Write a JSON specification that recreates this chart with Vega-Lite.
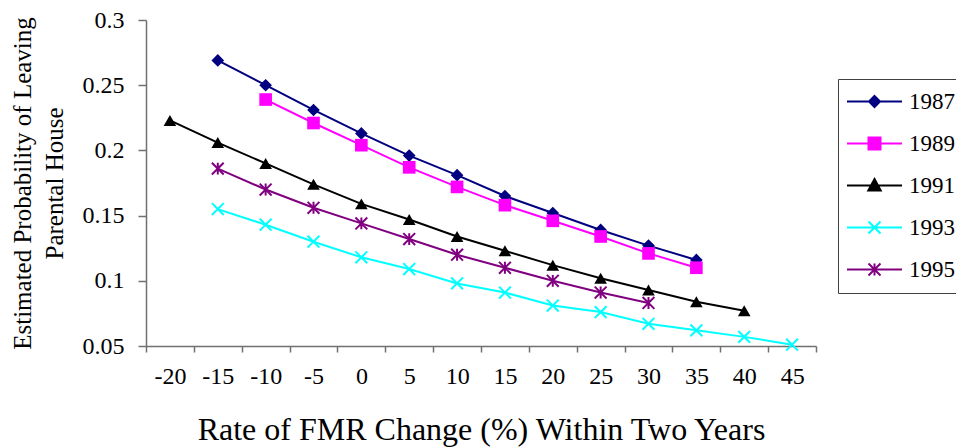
{
  "$schema": "https://vega.github.io/schema/vega-lite/v6.json",
  "width": 670,
  "height": 326,
  "autosize": "none",
  "padding": {"left": 146, "top": 20, "right": 140, "bottom": 101},
  "background": "white",
  "config": {
    "view": {"stroke": null},
    "axis": {
      "labelFont": "Liberation Serif",
      "titleFont": "Liberation Serif",
      "labelColor": "black",
      "titleColor": "black",
      "titleFontWeight": "normal",
      "domainColor": "#707070",
      "tickColor": "#707070",
      "domainWidth": 1.5,
      "tickWidth": 1.5,
      "grid": false
    }
  },
  "data": {
    "values": [
      {"x": -15, "y": 0.269, "year": "1987"},
      {"x": -10, "y": 0.250, "year": "1987"},
      {"x": -5, "y": 0.231, "year": "1987"},
      {"x": 0, "y": 0.213, "year": "1987"},
      {"x": 5, "y": 0.196, "year": "1987"},
      {"x": 10, "y": 0.181, "year": "1987"},
      {"x": 15, "y": 0.165, "year": "1987"},
      {"x": 20, "y": 0.152, "year": "1987"},
      {"x": 25, "y": 0.139, "year": "1987"},
      {"x": 30, "y": 0.127, "year": "1987"},
      {"x": 35, "y": 0.116, "year": "1987"},
      {"x": -10, "y": 0.239, "year": "1989"},
      {"x": -5, "y": 0.221, "year": "1989"},
      {"x": 0, "y": 0.204, "year": "1989"},
      {"x": 5, "y": 0.187, "year": "1989"},
      {"x": 10, "y": 0.172, "year": "1989"},
      {"x": 15, "y": 0.158, "year": "1989"},
      {"x": 20, "y": 0.146, "year": "1989"},
      {"x": 25, "y": 0.134, "year": "1989"},
      {"x": 30, "y": 0.121, "year": "1989"},
      {"x": 35, "y": 0.110, "year": "1989"},
      {"x": -20, "y": 0.223, "year": "1991"},
      {"x": -15, "y": 0.206, "year": "1991"},
      {"x": -10, "y": 0.190, "year": "1991"},
      {"x": -5, "y": 0.174, "year": "1991"},
      {"x": 0, "y": 0.159, "year": "1991"},
      {"x": 5, "y": 0.147, "year": "1991"},
      {"x": 10, "y": 0.134, "year": "1991"},
      {"x": 15, "y": 0.123, "year": "1991"},
      {"x": 20, "y": 0.112, "year": "1991"},
      {"x": 25, "y": 0.102, "year": "1991"},
      {"x": 30, "y": 0.093, "year": "1991"},
      {"x": 35, "y": 0.084, "year": "1991"},
      {"x": 40, "y": 0.077, "year": "1991"},
      {"x": -15, "y": 0.155, "year": "1993"},
      {"x": -10, "y": 0.143, "year": "1993"},
      {"x": -5, "y": 0.130, "year": "1993"},
      {"x": 0, "y": 0.118, "year": "1993"},
      {"x": 5, "y": 0.109, "year": "1993"},
      {"x": 10, "y": 0.098, "year": "1993"},
      {"x": 15, "y": 0.091, "year": "1993"},
      {"x": 20, "y": 0.081, "year": "1993"},
      {"x": 25, "y": 0.076, "year": "1993"},
      {"x": 30, "y": 0.067, "year": "1993"},
      {"x": 35, "y": 0.062, "year": "1993"},
      {"x": 40, "y": 0.057, "year": "1993"},
      {"x": 45, "y": 0.051, "year": "1993"},
      {"x": -15, "y": 0.186, "year": "1995"},
      {"x": -10, "y": 0.170, "year": "1995"},
      {"x": -5, "y": 0.156, "year": "1995"},
      {"x": 0, "y": 0.144, "year": "1995"},
      {"x": 5, "y": 0.132, "year": "1995"},
      {"x": 10, "y": 0.120, "year": "1995"},
      {"x": 15, "y": 0.110, "year": "1995"},
      {"x": 20, "y": 0.100, "year": "1995"},
      {"x": 25, "y": 0.091, "year": "1995"},
      {"x": 30, "y": 0.083, "year": "1995"}
    ]
  },
  "encoding": {
    "x": {
      "field": "x",
      "type": "quantitative",
      "scale": {"domain": [-22.5, 47.5], "nice": false, "zero": false},
      "axis": {
        "values": [-22.5, -17.5, -12.5, -7.5, -2.5, 2.5, 7.5, 12.5, 17.5, 22.5, 27.5, 32.5, 37.5, 42.5, 47.5],
        "labelExpr": "datum.value > 46 ? '' : toString(datum.value + 2.5)",
        "labelOffset": 24,
        "labelFontSize": 24,
        "labelBaseline": "alphabetic",
        "labelPadding": 31,
        "labelFlush": false,
        "labelOverlap": false,
        "tickSize": 6,
        "title": "Rate of FMR Change (%) Within Two Years",
        "titleFontSize": 32,
        "titleBaseline": "alphabetic",
        "titleY": 93
      }
    },
    "y": {
      "field": "y",
      "type": "quantitative",
      "scale": {"domain": [0.05, 0.3], "nice": false, "zero": false},
      "axis": {
        "values": [0.05, 0.1, 0.15, 0.2, 0.25, 0.3],
        "labelExpr": "toString(datum.value)",
        "labelFontSize": 24,
        "labelPadding": 14,
        "tickSize": 8,
        "title": ["Estimated Probability of Leaving", "Parental House"],
        "titleFontSize": 25,
        "titleLineHeight": 32,
        "titleAngle": -90,
        "titleBaseline": "alphabetic",
        "titleX": -116
      }
    }
  },
  "resolve": {"scale": {"shape": "independent", "fill": "independent", "stroke": "independent"}},
  "layer": [
    {
      "mark": {"type": "line", "strokeWidth": 2},
      "encoding": {
        "color": {
          "field": "year",
          "type": "nominal",
          "scale": {
            "domain": ["1987", "1989", "1991", "1993", "1995"],
            "range": ["#000080", "#FF00FF", "#000000", "#00FFFF", "#800080"]
          },
          "legend": null
        }
      }
    },
    {
      "transform": [{"filter": "datum.year === '1987' || datum.year === '1989' || datum.year === '1991'"}],
      "mark": {"type": "point", "filled": true, "size": 160, "opacity": 1},
      "encoding": {
        "color": {"field": "year", "type": "nominal", "legend": null},
        "shape": {
          "field": "year",
          "type": "nominal",
          "scale": {
            "domain": ["1987", "1989", "1991", "1993", "1995"],
            "range": ["diamond", "square", "triangle-up", "M-1,-1L1,1M-1,1L1,-1", "M-1,-1L1,1M-1,1L1,-1M0,-1L0,1"]
          },
          "legend": null
        }
      }
    },
    {
      "transform": [{"filter": "datum.year === '1993' || datum.year === '1995'"}],
      "mark": {"type": "point", "filled": false, "size": 140, "strokeWidth": 2, "opacity": 1},
      "encoding": {
        "color": {"field": "year", "type": "nominal", "legend": null},
        "shape": {
          "field": "year",
          "type": "nominal",
          "scale": {
            "domain": ["1987", "1989", "1991", "1993", "1995"],
            "range": ["diamond", "square", "triangle-up", "M-1,-1L1,1M-1,1L1,-1", "M-1,-1L1,1M-1,1L1,-1M0,-1L0,1"]
          },
          "legend": null
        }
      }
    },
    {
      "transform": [{"filter": "datum.x > 1000"}],
      "mark": {"type": "point", "filled": true, "strokeWidth": 2, "opacity": 1},
      "encoding": {
        "fill": {
          "field": "year",
          "type": "nominal",
          "scale": {
            "domain": ["1987", "1989", "1991", "1993", "1995"],
            "range": ["#000080", "#FF00FF", "#000000", "#00FFFF", "#800080"]
          },
          "legend": {
            "orient": "none", "legendX": 692, "legendY": 59, "title": null,
            "strokeColor": "#404040", "fillColor": "white", "padding": 11,
            "symbolSize": 400, "symbolStrokeWidth": 2, "symbolOffset": 14, "labelOffset": 23,
            "labelFont": "Liberation Serif", "labelFontSize": 23, "labelColor": "black", "rowPadding": 18
          }
        },
        "stroke": {
          "field": "year",
          "type": "nominal",
          "scale": {
            "domain": ["1987", "1989", "1991", "1993", "1995"],
            "range": ["#000080", "#FF00FF", "#000000", "#00FFFF", "#800080"]
          },
          "legend": {
            "orient": "none", "legendX": 692, "legendY": 59, "title": null,
            "strokeColor": "#404040", "fillColor": "white", "padding": 11,
            "symbolSize": 400, "symbolStrokeWidth": 2, "symbolOffset": 14, "labelOffset": 23,
            "labelFont": "Liberation Serif", "labelFontSize": 23, "labelColor": "black", "rowPadding": 18
          }
        },
        "shape": {
          "field": "year",
          "type": "nominal",
          "scale": {
            "domain": ["1987", "1989", "1991", "1993", "1995"],
            "range": [
              "M-2.75,0H2.75M0,-0.55L0.55,0L0,0.55L-0.55,0Z",
              "M-2.75,0H2.75M-0.6,-0.6H0.6V0.6H-0.6Z",
              "M-2.75,0H2.75M0,-0.65L0.62,0.5H-0.62Z",
              "M-2.75,0H2.75M-0.6,-0.6L0.6,0.6M-0.6,0.6L0.6,-0.6",
              "M-2.75,0H2.75M-0.6,-0.6L0.6,0.6M-0.6,0.6L0.6,-0.6M0,-0.6V0.6"
            ]
          },
          "legend": {
            "orient": "none", "legendX": 692, "legendY": 59, "title": null,
            "strokeColor": "#404040", "fillColor": "white", "padding": 11,
            "symbolSize": 400, "symbolStrokeWidth": 2, "symbolOffset": 14, "labelOffset": 23,
            "labelFont": "Liberation Serif", "labelFontSize": 23, "labelColor": "black", "rowPadding": 18
          }
        }
      }
    }
  ]
}
